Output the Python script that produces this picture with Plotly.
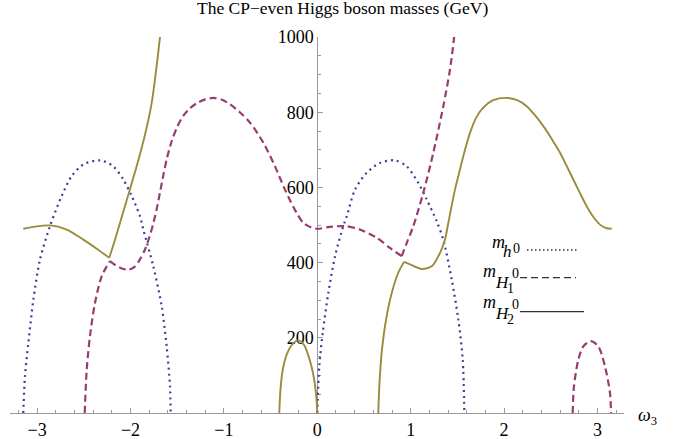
import plotly.graph_objects as go

# ---------------- data ----------------
# m_h0 (blue, dotted): two arcs
mh0_a_x = [-3.148, -3.13, -3.094, -3.04, -2.969, -2.862, -2.737, -2.63, -2.505, -2.325,
           -2.184, -2.077, -1.987, -1.898, -1.863, -1.756, -1.666, -1.613, -1.577, -1.57]
mh0_a_y = [0, 97, 186, 301, 408, 497, 577, 630, 661, 672,
           656, 621, 577, 523, 488, 390, 284, 177, 71, 0]
mh0_b_x = [0.0, 0.021, 0.058, 0.118, 0.19, 0.278, 0.315, 0.404, 0.529, 0.671, 0.832,
           0.957, 1.081, 1.171, 1.278, 1.349, 1.439, 1.51, 1.557, 1.574]
mh0_b_y = [0, 124, 213, 319, 417, 497, 523, 594, 639, 665, 672,
           656, 612, 568, 510, 461, 355, 248, 142, 0]

# m_H1 (purple, dashed)
mH1_a_x = [-2.49, -2.469, -2.434, -2.38, -2.308, -2.22]
mH1_a_y = [0, 115, 204, 293, 364, 404]
mH1_b_x = [-2.22, -2.16, -2.1, -2.024, -1.96, -1.9, -1.845, -1.8, -1.76, -1.72, -1.684,
           -1.648, -1.612, -1.56, -1.5, -1.435, -1.36, -1.29, -1.2, -1.113, -1.02, -0.935,
           -0.83, -0.72, -0.578, -0.453, -0.346, -0.221, -0.15, -0.07,
           0.0, 0.136, 0.3, 0.457, 0.636, 0.778, 0.904]
mH1_b_y = [404, 393, 385, 381, 388, 408, 435, 466, 500, 542, 587,
           633, 675, 722, 761, 790, 811, 824, 834, 838, 833, 821,
           800, 772, 719, 656, 594, 532, 506, 494,
           490, 495, 497, 488, 466, 439, 417]
mH1_c_x = [0.904, 0.957, 1.028, 1.135, 1.242, 1.349, 1.421, 1.47]
mH1_c_y = [417, 452, 497, 586, 692, 816, 914, 1010]
mH1_d_x = [2.734, 2.748, 2.795, 2.848, 2.927, 3.009, 3.08, 3.134, 3.145]
mH1_d_y = [0, 71, 142, 177, 191, 177, 124, 53, 0]

# m_H2 (olive, solid)
mH2_a_x = [-3.148, -3.04, -2.862, -2.683, -2.505, -2.362, -2.227]
mH2_a_y = [490, 495, 499, 488, 461, 437, 413]
mH2_b_x = [-2.227, -2.166, -2.112, -2.024, -1.934, -1.845, -1.773, -1.72, -1.68]
mH2_b_y = [413, 461, 506, 580, 656, 740, 825, 923, 1010]
mH2_c_x = [-0.407, -0.395, -0.37, -0.328, -0.27, -0.2, -0.14, -0.09, -0.045, -0.015, 0.0]
mH2_c_y = [0, 60, 115, 155, 182, 193, 180, 148, 105, 55, 0]
mH2_d_x = [0.653, 0.664, 0.689, 0.736, 0.797, 0.867, 0.928]
mH2_d_y = [0, 71, 160, 248, 319, 373, 402]
mH2_e_x = [0.928, 0.993, 1.118, 1.225, 1.314, 1.367, 1.403, 1.474, 1.528, 1.563, 1.635,
           1.7, 1.777, 1.884, 2.028, 2.14, 2.242, 2.33, 2.42, 2.51, 2.599, 2.67, 2.741,
           2.81, 2.884, 2.96, 3.027, 3.09, 3.152]
mH2_e_y = [402, 395, 383, 390, 426, 461, 506, 594, 648, 683, 745,
           785, 812, 832, 838, 832, 816, 792, 763, 729, 692, 657, 621,
           586, 550, 520, 501, 492, 490]

x_tick_vals = [-3, -2, -1, 0, 1, 2, 3]
y_tick_vals = [200, 400, 600, 800, 1000]
title_text = "The CP\u2212even Higgs boson masses (GeV)"

# ---------------- figure ----------------
W, H = 674, 439
LS, TS, RS, BS = 10, 37, 624, 413          # plot area in screen pixels
PW, PH = RS - LS, BS - TS
X0PX, XSCALE = 317.3, 93.4
xr = [(LS - X0PX) / XSCALE, (RS - X0PX) / XSCALE]

BLUE = "rgb(61,61,153)"
PURPLE = "rgb(153,61,113)"
OLIVE = "rgb(153,140,61)"
FONT = "Liberation Serif"

fig = go.Figure()


def add(x, y, color, dash, width):
    fig.add_trace(go.Scatter(
        x=x, y=y, mode="lines", hoverinfo="skip", showlegend=False,
        line=dict(color=color, dash=dash, width=width, shape="spline", smoothing=0.8)))


for xs, ys in [(mh0_a_x, mh0_a_y), (mh0_b_x, mh0_b_y)]:
    add(xs, ys, BLUE, "2px,4px", 2.2)
for xs, ys in [(mH1_a_x, mH1_a_y), (mH1_b_x, mH1_b_y), (mH1_c_x, mH1_c_y), (mH1_d_x, mH1_d_y)]:
    add(xs, ys, PURPLE, "7px,4px", 2.2)
for xs, ys in [(mH2_a_x, mH2_a_y), (mH2_b_x, mH2_b_y), (mH2_c_x, mH2_c_y),
               (mH2_d_x, mH2_d_y), (mH2_e_x, mH2_e_y)]:
    add(xs, ys, OLIVE, "solid", 1.9)


def P(px, py):
    return (px - LS) / PW, 1 - (py - TS) / PH


anns = []


def txt(s, px, py, size, xanchor="center"):
    x, y = P(px, py)
    anns.append(dict(text=s, x=x, y=y, xref="paper", yref="paper", showarrow=False,
                     xanchor=xanchor, yanchor="middle",
                     font=dict(family=FONT, size=size, color="black")))


# title
txt(title_text, 342, 8, 17.5)
# axis label
txt("<i>\u03c9</i><sub>3</sub>", 636, 416, 18, xanchor="left")

# legend texts
txt("<i>m</i>", 498.5, 242, 18)
txt("<i>h</i>", 507.5, 251.5, 17)
txt("0", 516.5, 248, 14)

for dy, sub in [(0, "1"), (31, "2")]:
    txt("<i>m</i>", 489.5, 270.5 + dy, 18)
    txt("<i>H</i>", 502, 282.5 + dy, 17)
    txt("0", 515, 273.5 + dy, 14)
    txt(sub, 510.5, 288.5 + dy, 14)

shapes = []
for (x1, x2, y, dash) in [(527, 577, 250, "1.5px,2.5px"), (520, 576, 277.7, "7px,4px"),
                          (520, 584, 311.7, "solid")]:
    a = P(x1, y)
    b = P(x2, y)
    shapes.append(dict(type="line", xref="paper", yref="paper", x0=a[0], y0=a[1], x1=b[0], y1=b[1],
                       line=dict(color="#333333", width=1.3, dash=dash)))

fig.update_layout(
    width=W, height=H,
    margin=dict(l=LS, r=W - RS, t=TS, b=H - BS, autoexpand=False),
    paper_bgcolor="white", plot_bgcolor="white",
    annotations=anns, shapes=shapes,
    font=dict(family=FONT, size=18, color="black"),
    xaxis=dict(range=xr, showgrid=False, zeroline=False, showline=True, linecolor="#999999",
               linewidth=1, ticks="inside", ticklen=5, tickcolor="#999999", tickwidth=1,
               tickmode="array", tickvals=x_tick_vals, layer="below traces", automargin=False,
               tickfont=dict(family=FONT, size=18, color="black"),
               minor=dict(tickmode="linear", tick0=0, dtick=0.2, ticks="inside", ticklen=3,
                          tickcolor="#999999", tickwidth=1, showgrid=False),
               anchor="y"),
    yaxis=dict(range=[0, 1000], showgrid=False, zeroline=False, showline=True, linecolor="#999999",
               linewidth=1, ticks="inside", ticklen=5, tickcolor="#999999", tickwidth=1,
               tickmode="array", tickvals=y_tick_vals, layer="below traces", automargin=False,
               tickfont=dict(family=FONT, size=18, color="black"),
               minor=dict(tickmode="linear", tick0=0, dtick=50, ticks="inside", ticklen=3,
                          tickcolor="#999999", tickwidth=1, showgrid=False),
               anchor="free", position=(0 - xr[0]) / (xr[1] - xr[0])),
)

# remove the default 8px page margin so the figure sits at the window's corner
fig.write_html("out.html", config={"displayModeBar": False},
               post_script="document.body.style.margin='0';")
